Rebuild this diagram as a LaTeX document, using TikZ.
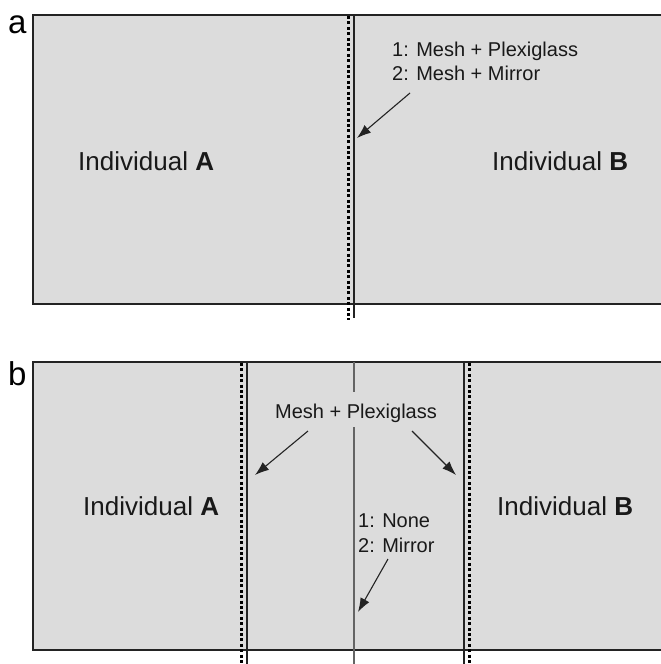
\documentclass[tikz,border=0pt]{standalone}
\usepackage{fontspec}
\setmainfont{Liberation Sans}
\usetikzlibrary{arrows.meta}
\definecolor{panelfill}{RGB}{220,220,220}
\definecolor{edge}{RGB}{35,35,35}
\definecolor{midline}{RGB}{100,100,100}
\tikzset{
  panel/.style={fill=panelfill, draw=none},
  frame/.style={draw=edge, line width=2.4pt},
  dotline/.style={draw=black, line width=3pt, dash pattern=on 3pt off 2.4pt},
  thinline/.style={draw=edge, line width=1.2pt},
  grayline/.style={draw=midline, line width=1.6pt},
  pointer/.style={draw=edge, line width=1.1pt, -{Latex[length=14pt,width=10pt]}},
  biglabel/.style={font=\fontsize{26}{30}\selectfont, inner sep=0pt, text=black!90},
  smalllabel/.style={font=\fontsize{20}{24}\selectfont, inner sep=0pt, text=black!90},
  panellabel/.style={font=\fontsize{33}{36}\selectfont, inner sep=0pt}
}
\begin{document}
\begin{tikzpicture}[x=1pt,y=-1pt]
\useasboundingbox (0,0) rectangle (661,664);
% ---------- panel a ----------
\fill[panel] (33,15) rectangle (661,304);
\draw[frame] (663,15) -- (33,15) -- (33,304) -- (663,304);
\draw[dotline] (348,16) -- (348,320);
\draw[thinline] (354,15) -- (354,318);
\node[panellabel, anchor=base west] (la) at (8,33) {a};
\node[biglabel, anchor=base west] (aA) at (78,170) {Individual \textbf{A}};
\node[biglabel, anchor=base west] (aB) at (492,170) {Individual \textbf{B}};
\node[smalllabel, anchor=base west] (at1) at (392,56) {1: Mesh + Plexiglass};
\node[smalllabel, anchor=base west] (at2) at (392,80) {2: Mesh + Mirror};
\coordinate (aS) at (410,93);
\coordinate (aT) at (357,138);
\draw[pointer] (aS) -- (aT);
% ---------- panel b ----------
\fill[panel] (33,362) rectangle (661,650);
\draw[frame] (663,362) -- (33,362) -- (33,650) -- (663,650);
\draw[dotline] (241,363) -- (241,664);
\draw[thinline] (247,362) -- (247,664);
\draw[grayline] (354,362) -- (354,392);
\draw[grayline] (354,427) -- (354,664);
\draw[thinline] (464,362) -- (464,664);
\draw[dotline] (469,363) -- (469,664);
\node[panellabel, anchor=base west] (lb) at (8,385) {b};
\node[biglabel, anchor=base west] (bA) at (83,515) {Individual \textbf{A}};
\node[biglabel, anchor=base west] (bB) at (497,515) {Individual \textbf{B}};
\node[smalllabel, anchor=base] (mp) at (356,418) {Mesh + Plexiglass};
\node[smalllabel, anchor=base west] (bt1) at (358,527) {1: None};
\node[smalllabel, anchor=base west] (bt2) at (358,552) {2: Mirror};
\coordinate (bS1) at (308,431);
\coordinate (bT1) at (255,475);
\coordinate (bS2) at (412,431);
\coordinate (bT2) at (456,475);
\coordinate (bS3) at (388,559);
\coordinate (bT3) at (358,612);
\draw[pointer] (bS1) -- (bT1);
\draw[pointer] (bS2) -- (bT2);
\draw[pointer] (bS3) -- (bT3);
\end{tikzpicture}
\end{document}
